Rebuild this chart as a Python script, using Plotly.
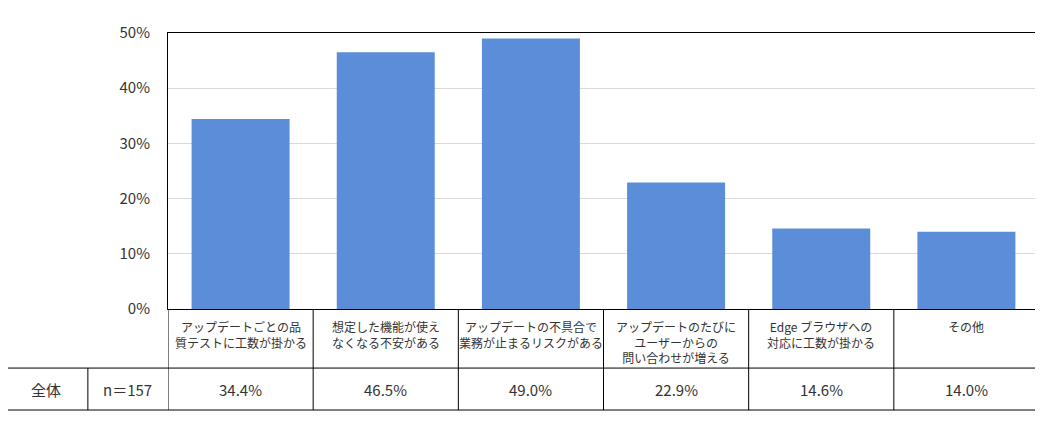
import plotly.graph_objects as go

# 項目と割合（表の数値）
categories = [
    "アップデートごとの品<br>質テストに工数が掛かる",
    "想定した機能が使え<br>なくなる不安がある",
    "アップデートの不具合で<br>業務が止まるリスクがある",
    "アップデートのたびに<br>ユーザーからの<br>問い合わせが増える",
    "Edge ブラウザへの<br>対応に工数が掛かる",
    "その他",
]
values = [34.4, 46.5, 49.0, 22.9, 14.6, 14.0]
row_label = "全体"
n_label = "n＝157"
y_ticks = [0, 10, 20, 30, 40, 50]

FONT = "Noto Sans CJK JP"
TXT = "#333333"
BAR = "#5b8dd9"

x_idx = list(range(len(categories)))

fig = go.Figure()
fig.add_trace(go.Bar(
    x=x_idx,
    y=[v / 100 for v in values],
    marker=dict(color=BAR, line=dict(width=0)),
    width=0.675,
    hoverinfo="skip",
))

# 表の位置（紙座標）
row1_bottom = -0.214
row2_bottom = -0.366
left_edge = -0.189
n_left = -0.092
row2_mid = (row1_bottom + row2_bottom) / 2

shapes = []
# 横線
for yy in [row1_bottom, row2_bottom]:
    shapes.append(dict(type="line", xref="paper", yref="paper",
                       x0=left_edge, x1=1, y0=yy, y1=yy,
                       line=dict(color="black", width=1)))
# 縦線（項目の境目）
for i in range(len(categories) + 1):
    shapes.append(dict(type="line", xref="x", yref="paper",
                       x0=i - 0.5, x1=i - 0.5, y0=0, y1=row2_bottom,
                       line=dict(color="black", width=1)))
# 左の2セル
for xx in [left_edge, n_left]:
    shapes.append(dict(type="line", xref="paper", yref="paper",
                       x0=xx, x1=xx, y0=row1_bottom, y1=row2_bottom,
                       line=dict(color="black", width=1)))

annotations = []
for i, (c, v) in enumerate(zip(categories, values)):
    annotations.append(dict(x=i, y=-0.025, xref="x", yref="paper",
                            text=c, showarrow=False, yanchor="top",
                            xanchor="center", align="center",
                            font=dict(family=FONT, size=12, color=TXT)))
    annotations.append(dict(x=i, y=row2_mid, xref="x", yref="paper",
                            text=f"{v:.1f}%", showarrow=False,
                            xanchor="center", yanchor="middle",
                            font=dict(family=FONT, size=15, color=TXT)))
annotations.append(dict(x=(left_edge + n_left) / 2, y=row2_mid,
                        xref="paper", yref="paper", text=row_label,
                        xanchor="center", yanchor="middle",
                        showarrow=False, font=dict(family=FONT, size=15, color=TXT)))
annotations.append(dict(x=n_left / 2, y=row2_mid,
                        xref="paper", yref="paper", text=n_label,
                        xanchor="center", yanchor="middle",
                        showarrow=False, font=dict(family=FONT, size=15, color=TXT)))

fig.update_layout(
    width=1035, height=420,
    margin=dict(l=160, r=4, t=25, b=119),
    paper_bgcolor="white", plot_bgcolor="white",
    showlegend=False,
    font=dict(family=FONT, color=TXT),
    shapes=shapes,
    annotations=annotations,
    xaxis=dict(range=[-0.5, len(categories) - 0.5], showticklabels=False,
               showgrid=False, zeroline=False,
               showline=True, mirror=True, linecolor="black", linewidth=1),
    yaxis=dict(range=[0, 0.5], tickvals=[t / 100 for t in y_ticks],
               ticktext=[f"{t}%" for t in y_ticks],
               showgrid=True, gridcolor="#d9d9d9", gridwidth=1,
               zeroline=False, showline=True, linecolor="black", linewidth=1,
               ticklabelstandoff=14,
               tickfont=dict(family=FONT, size=15, color=TXT)),
)

fig.write_html("out.html")
